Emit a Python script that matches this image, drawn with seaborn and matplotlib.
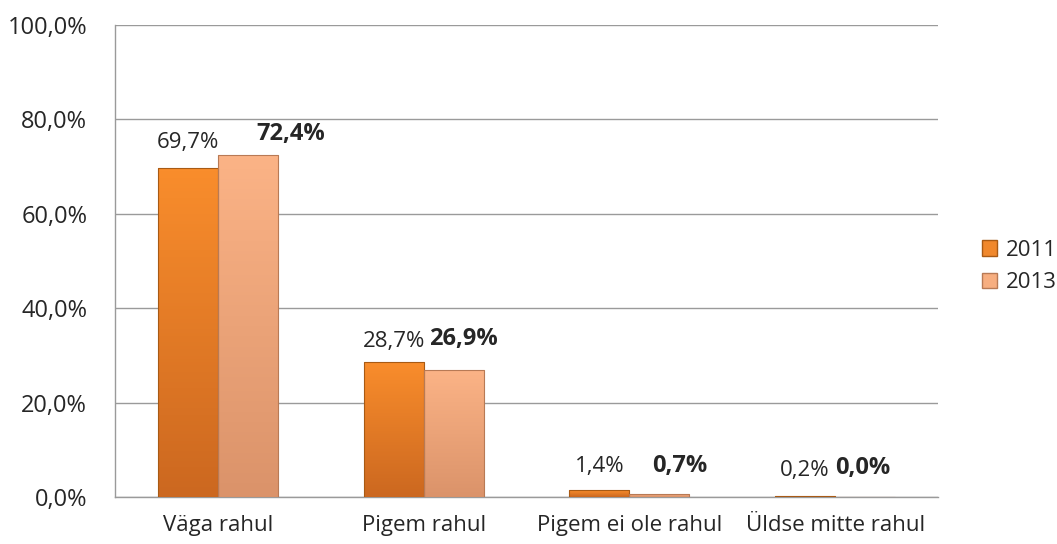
import numpy as np
import pandas as pd
import matplotlib
matplotlib.use("Agg")
import matplotlib.pyplot as plt
from matplotlib.colors import LinearSegmentedColormap
import seaborn as sns

# Data
categories = ["Väga rahul", "Pigem rahul", "Pigem ei ole rahul", "Üldse mitte rahul"]
years = ["2011", "2013"]
values_2011 = [69.7, 28.7, 1.4, 0.2]
values_2013 = [72.4, 26.9, 0.7, 0.0]
y_ticks = [0, 20, 40, 60, 80, 100]

# label shifts in points (dx, dy) for each series
shift_2011 = [(0, 11), (0, 7), (0, 10), (0, 11)]
shift_2013 = [(31, 7), (7, 14), (15, 11), (-2, 12)]

colors = {"2011": "#F0882C", "2013": "#F7AE80"}
edges = {"2011": "#A85A14", "2013": "#B87A55"}
gradients = {"2011": ("#F98D2C", "#CC6820"), "2013": ("#FBB386", "#DB936A")}

df = pd.DataFrame({
    "category": categories * 2,
    "year": [years[0]] * len(categories) + [years[1]] * len(categories),
    "value": values_2011 + values_2013,
})

sns.set_style("white")
plt.rcParams["font.family"] = ["Open Sans", "DejaVu Sans"]

fig = plt.figure(figsize=(10.57, 5.44), dpi=100)
ax = fig.add_axes([115 / 1057, 47 / 544, 823 / 1057, 472 / 544])

sns.barplot(data=df, x="category", y="value", hue="year", palette=colors,
            saturation=1, width=0.584, ax=ax, legend=False, zorder=3)

ax.set_xlim(-0.5, len(categories) - 0.5)
ax.set_ylim(0, 100)

# gradient fill inside each bar, outline kept on top
for container, year in zip(ax.containers, years):
    cmap = LinearSegmentedColormap.from_list(year, [gradients[year][1], gradients[year][0]])
    for bar in container:
        bar.set_edgecolor(edges[year])
        bar.set_linewidth(0.8)
        x0, w, h = bar.get_x(), bar.get_width(), bar.get_height()
        if h <= 0:
            continue
        grad = np.linspace(0, 1, 100).reshape(-1, 1)
        im = ax.imshow(grad, cmap=cmap, origin="lower", aspect="auto",
                       extent=(x0, x0 + w, 0, h), zorder=3.5)
        im.set_clip_path(bar)
        bar.set_facecolor("none")
        bar.set_zorder(4)

ax.set_xlim(-0.5, len(categories) - 0.5)
ax.set_ylim(0, 100)
ax.set_yticks(y_ticks)
ax.set_yticklabels([f"{t:.1f}%".replace(".", ",") for t in y_ticks], fontsize=17)
ax.tick_params(axis="y", length=0, pad=20)
ax.tick_params(axis="x", length=0, pad=13, labelsize=16)
ax.set_xlabel("")
ax.set_ylabel("")
ax.yaxis.grid(True, color="#9A9A9A", linewidth=1.0, zorder=0)
ax.set_axisbelow(True)
for side in ["top", "right"]:
    ax.spines[side].set_visible(False)
for side in ["left", "bottom"]:
    ax.spines[side].set_color("#9A9A9A")
    ax.spines[side].set_linewidth(1.0)

# value labels
for container, vals, shifts, weight in zip(ax.containers, [values_2011, values_2013],
                                           [shift_2011, shift_2013], ["normal", "bold"]):
    for bar, v, (dx, dy) in zip(container, vals, shifts):
        ax.annotate(f"{v:.1f}%".replace(".", ","),
                    xy=(bar.get_x() + bar.get_width() / 2, bar.get_height()),
                    xytext=(dx, dy), textcoords="offset points",
                    ha="center", va="bottom", fontsize=16 if weight == "normal" else 17,
                    fontweight=weight, zorder=5)

# legend
handles = [plt.Rectangle((0, 0), 1, 1, facecolor=colors[y], edgecolor=edges[y]) for y in years]
fig.legend(handles, years, loc="center left", bbox_to_anchor=(966 / 1057, 0.51),
           frameon=False, fontsize=16, handlelength=0.7, handleheight=0.7,
           handletextpad=0.4, labelspacing=0.5, borderpad=0.2)

fig.savefig("out.png", dpi=100)
